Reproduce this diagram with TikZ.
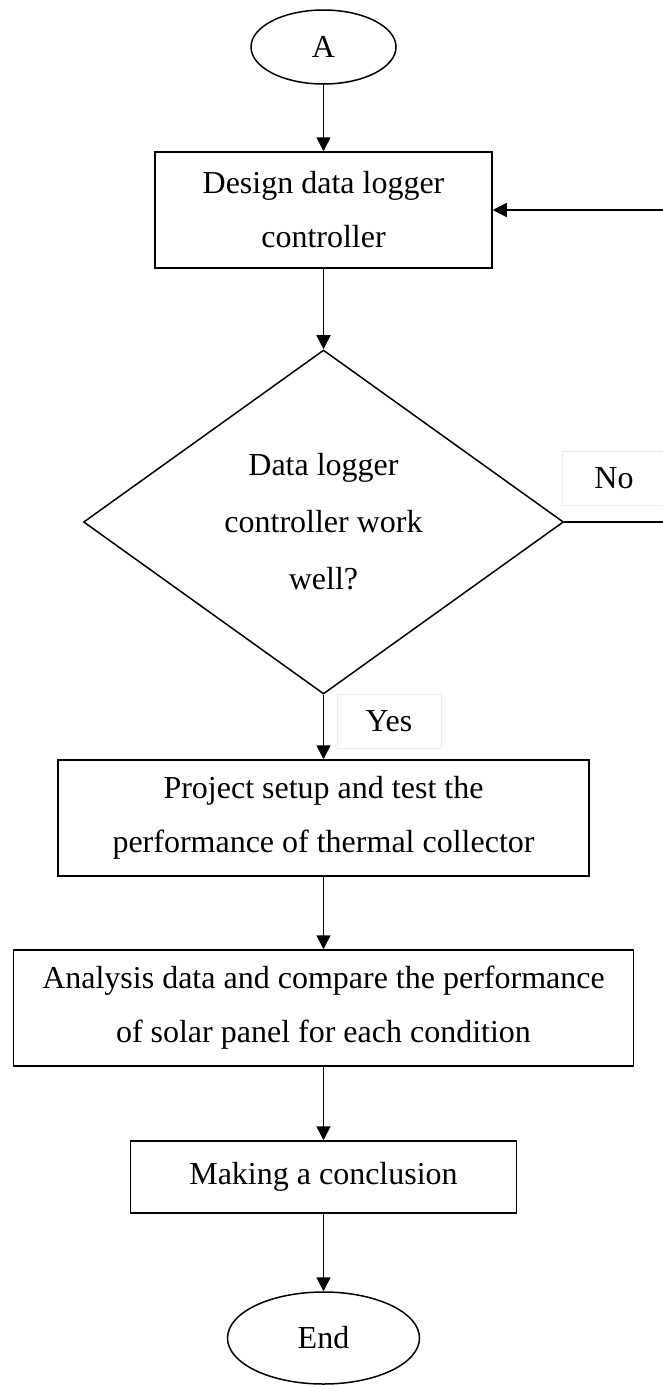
\documentclass[tikz,border=0pt]{standalone}
\usepackage{fontspec}
\setmainfont{Liberation Serif}
\usetikzlibrary{arrows.meta,positioning,shapes.geometric}
\definecolor{labelgray}{RGB}{236,236,236}

\begin{document}
\begin{tikzpicture}[x=1pt, y=-1pt, line width=1.5pt,
  every node/.style={font=\fontsize{32}{54}\selectfont, align=center, inner sep=0pt},
  terminal/.style={draw, ellipse},
  procbox/.style={draw, rectangle, minimum height=116pt},
  decision/.style={draw, diamond, aspect=1.4, minimum width=480pt, minimum height=344pt, font=\fontsize{32}{57}\selectfont},
  answer/.style={draw=labelgray, line width=1pt, minimum width=104pt, minimum height=54pt},
  flowarrow/.style={-{Triangle[length=14pt,width=14pt]}}]
  \useasboundingbox (0,0) rectangle (662,1385);
  % Start and first step
  \node[terminal, minimum width=145pt, minimum height=74pt] (startA) at (323.5,47) {A};
  \node[procbox, minimum width=337pt] (design) at (323.5,210) {Design data logger\\controller};
  % Decision with its answers
  \node[decision] (check) at (323.5,522) {Data logger\\controller work\\well?};
  \node[answer] (nolbl) at (614,478) {No};
  \node[answer] (yeslbl) at (389,721) {Yes};
  % Remaining steps
  \node[procbox, minimum width=531pt] (setup) at (323.5,818) {Project setup and test the\\performance of thermal collector};
  \node[procbox, minimum width=620pt] (analysis) at (323.5,1008) {Analysis data and compare the performance\\of solar panel for each condition};
  \node[procbox, minimum width=386pt, minimum height=72pt] (conclude) at (323.5,1177) {Making a conclusion};
  \node[terminal, minimum width=192pt, minimum height=92pt] (finish) at (323.5,1338) {End};
  % Loop back corners (outside the page edge)
  \coordinate (loopdown) at (668,522);
  \coordinate (loopup) at (668,210);
  % Connectors
  \draw[flowarrow] (startA) -- (design);
  \draw[flowarrow] (design) -- (check);
  \draw[flowarrow] (check) -- (setup);
  \draw[flowarrow] (setup) -- (analysis);
  \draw[flowarrow] (analysis) -- (conclude);
  \draw[flowarrow] (conclude) -- (finish);
  \draw[flowarrow] (check.east) -- (loopdown) -- (loopup) -- (design.east);
\end{tikzpicture}
\end{document}
